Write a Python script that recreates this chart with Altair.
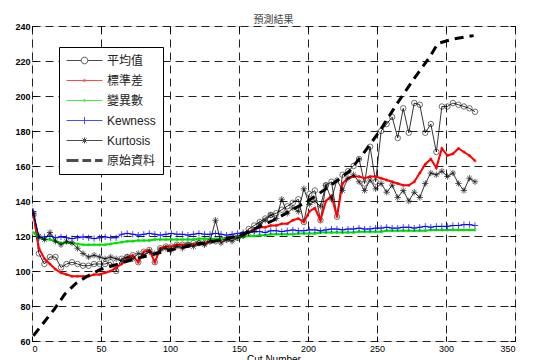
import altair as alt
import pandas as pd

# sample positions (Cut Number)
cut = [1, 5, 9, 13, 17, 21, 25, 29, 33, 37, 41, 45, 49, 53, 57, 61, 65, 69, 73, 77,
       81, 85, 89, 93, 97, 101, 105, 109, 113, 117, 121, 125, 129, 133, 137, 141, 145, 149, 153, 157,
       161, 165, 169, 173, 177, 181, 185, 189, 193, 197, 201, 205, 209, 213, 217, 221, 225, 229, 233, 237,
       241, 245, 249, 253, 257, 261, 265, 269, 273, 277, 281, 285, 289, 293, 297, 301, 305, 309, 313, 317, 321]

mean_v = [132, 110, 104, 108, 108, 102, 104, 105, 104, 103, 103, 104, 104, 104, 105, 100, 107, 108, 109, 105,
          111, 112, 105, 113, 114, 114, 115, 115, 115, 116, 116, 116, 117, 117, 118, 118, 119, 119, 121, 124,
          126, 128, 130, 132, 133, 135, 137, 139, 141, 128, 144, 146, 129, 149, 151, 131, 155, 157, 160, 164,
          150, 171, 151, 180, 184, 188, 176, 193, 179, 196, 195, 179, 184, 168, 194, 194, 196, 195, 194, 193, 191]

std_v = [133, 113, 107, 104, 101, 99, 98, 97, 97, 97, 97, 98, 98, 99, 100, 102, 104, 107, 109, 105,
         111, 112, 105, 113, 114, 114, 115, 115, 115, 115, 116, 116, 117, 117, 118, 118, 119, 119, 120, 122,
         124, 125, 125, 126, 126, 127, 127, 129, 130, 128, 134, 136, 129, 140, 143, 131, 150, 153, 154, 154,
         153, 154, 154, 153, 152, 151, 150, 149, 149, 151, 156, 161, 164, 159, 170, 166, 167, 170, 168, 166, 163]

cv_v = [122, 119, 118, 118, 117, 116, 116, 116, 115.5, 115, 115, 115, 115, 115, 115.5, 116, 116.5, 117, 117, 117.5,
        117.5, 117.5, 118, 118, 118, 118, 118, 118, 118, 118, 118.5, 118.5, 118.5, 118.5, 118.5, 119, 119, 119, 119.5, 120,
        120, 120.5, 120.5, 121, 121, 121, 121, 121, 121.5, 121.5, 121.5, 121.5, 122, 122, 122, 122, 122, 122, 122, 122.5,
        122.5, 122.5, 122.5, 122.5, 123, 123, 123, 123, 123, 123, 123, 123, 123.5, 123.5, 123.5, 123.5, 123.5, 123.5, 123.5, 123.5, 123.5]

skew_v = [134, 119, 119.5, 120, 119, 119.5, 119, 118.5, 119, 119.5, 119, 118.5, 119, 119.5, 119, 119, 121, 121.5, 121, 120.5,
          121, 121.5, 121, 120.5, 121, 121.5, 121, 121, 120.5, 121, 121.5, 121, 121, 121.5, 121, 120.5, 121, 121.5, 122, 122,
          122.5, 122.5, 122, 123, 123, 122.5, 123, 123.5, 123, 123, 123.5, 123.5, 123, 123.5, 124, 124, 123.5, 124, 124, 124.5,
          124, 124, 124.5, 124.5, 125, 124.5, 124.5, 125, 125, 124.5, 125, 125.5, 125, 125.5, 125.5, 125.5, 126, 126, 126.5, 126.5, 126]

kurt_v = [133, 120, 118, 122, 117, 115, 117, 116, 113, 110, 108, 109, 108, 107, 108, 107, 106, 108, 107, 110,
          109, 111, 110, 112, 113, 112, 114, 113, 115, 114, 116, 115, 117, 129, 116, 118, 117, 119, 120, 122,
          123, 127, 129, 132, 130, 141, 133, 136, 134, 147, 138, 140, 137, 149, 141, 152, 146, 153, 155, 151,
          146, 152, 147, 150, 145, 149, 142, 146, 140, 145, 142, 150, 156, 155, 157, 154, 156, 150, 146, 153, 151]

orig_x = [1, 8, 16, 24, 32, 40, 50, 75, 100, 125, 150, 175, 200, 215, 230, 240, 252, 264, 276, 288, 294, 305, 320]
orig_v = [63, 70, 78, 87, 93, 97, 101, 107, 112, 116, 120, 129, 140, 148, 157, 167, 180, 195, 209, 222, 230, 232.5, 234.5]

names = ["平均值", "標準差", "變異數", "Kewness", "Kurtosis", "原始資料"]
colors = ["#000000", "#ff0000", "#00e000", "#0000ff", "#000000", "#000000"]
legend_paths = [
    "M-1,0H1.45M2.55,0H5M2.55,0A0.55,0.55 0 1,1 1.45,0A0.55,0.55 0 1,1 2.55,0",
    "M-1,0H5M2.2,0A0.2,0.2 0 1,1 1.8,0A0.2,0.2 0 1,1 2.2,0",
    "M-1,0H5M2.2,0A0.2,0.2 0 1,1 1.8,0A0.2,0.2 0 1,1 2.2,0",
    "M-1,0H5M2,-0.6V0.6",
    "M-1,0H5M2,-0.5V0.5M1.65,-0.35L2.35,0.35M1.65,0.35L2.35,-0.35",
    "M-1,-0.17H1M-1,0H1M-1,0.17H1M1.65,-0.17H3.1M1.65,0H3.1M1.65,0.17H3.1M3.75,-0.17H5M3.75,0H5M3.75,0.17H5",
]

x_ticks = [0, 50, 100, 150, 200, 250, 300, 350]
y_ticks = [60, 80, 100, 120, 140, 160, 180, 200, 220, 240]

XS = alt.Scale(domain=[0, 350], nice=False, zero=False)
YS = alt.Scale(domain=[60, 240], nice=False, zero=False)

FONT = "Liberation Sans, Noto Sans CJK TC"

ax_main_x = alt.Axis(orient="bottom", values=x_ticks, grid=True, gridDash=[8, 5], gridColor="#222",
                     gridWidth=1, gridOpacity=1, tickSize=0, domain=False, labelFontSize=9,
                     labelColor="#000", labelPadding=3, labelFont=FONT, title="Cut Number",
                     titleFontSize=10, titleFontWeight="normal", titleFont=FONT, titlePadding=1,
                     titleColor="#000")
ax_main_y = alt.Axis(orient="left", values=y_ticks, grid=True, gridDash=[8, 5], gridColor="#222",
                     gridWidth=1, gridOpacity=1, tickSize=0, domain=False, labelFontSize=9,
                     labelColor="#000", labelPadding=2, labelFont=FONT, labelFontWeight="bold",
                     title=None)


def tick_axis(orient, vals):
    return alt.Axis(orient=orient, values=vals, offset=-5, tickSize=5, tickColor="#000", tickWidth=1,
                    labels=False, domain=False, grid=False, title=None)


def frame(xs, ys):
    return pd.DataFrame({"x": xs, "y": ys})


series = [
    ("平均值", mean_v, "#000000", 0.8, dict(shape="circle", filled=False, size=30, strokeWidth=0.8)),
    ("標準差", std_v, "#ff0000", 2, dict(shape="circle", filled=True, size=10)),
    ("變異數", cv_v, "#00e000", 2, dict(shape="circle", filled=True, size=10)),
    ("Kewness", skew_v, "#0000ff", 1, dict(shape="M-1,0H1M0,-1V1", filled=False, size=40, strokeWidth=1)),
    ("Kurtosis", kurt_v, "#000000", 0.8,
     dict(shape="M-1,0H1M0,-1V1M-0.7,-0.7L0.7,0.7M-0.7,0.7L0.7,-0.7", filled=False, size=40, strokeWidth=0.9)),
]

layers = []
for i, (nm, vals, col, lw, pt) in enumerate(series):
    df = frame(cut, vals)
    if i == 0:
        ax_l = (ax_main_x, ax_main_y)
        ax_p = (tick_axis("bottom", x_ticks), tick_axis("left", y_ticks))
    elif i == 1:
        ax_l = (tick_axis("top", x_ticks), tick_axis("right", y_ticks))
        ax_p = (None, None)
    else:
        ax_l = (None, None)
        ax_p = (None, None)
    line = alt.Chart(df).mark_line(color=col, strokeWidth=lw, clip=True).encode(
        x=alt.X("x:Q", scale=XS, axis=ax_l[0]),
        y=alt.Y("y:Q", scale=YS, axis=ax_l[1]),
    )
    pts = alt.Chart(df).mark_point(color=col, clip=True, **pt).encode(
        x=alt.X("x:Q", scale=XS, axis=ax_p[0]),
        y=alt.Y("y:Q", scale=YS, axis=ax_p[1]),
    )
    layers += [line, pts]

orig = alt.Chart(frame(orig_x, orig_v)).mark_line(color="#000", strokeWidth=3, strokeDash=[9, 6], clip=True).encode(
    x=alt.X("x:Q", scale=XS, axis=None),
    y=alt.Y("y:Q", scale=YS, axis=None),
)
layers.append(orig)

leg = alt.Legend(orient="none", legendX=27, legendY=21, title=None, padding=7, rowPadding=7,
                 symbolSize=144, symbolStrokeWidth=1, labelOffset=28, labelFontSize=12,
                 labelFont=FONT, labelColor="#222", fillColor="white", strokeColor="#000",
                 cornerRadius=0,
                 labelExpr="datum.label + '\u00a0\u00a0\u00a0\u00a0\u00a0\u00a0\u00a0'")
legend_layer = alt.Chart(pd.DataFrame({"series": names})).mark_point(
    filled=False, strokeWidth=1, size=144).encode(
    color=alt.Color("series:N", scale=alt.Scale(domain=names, range=colors), legend=leg),
    shape=alt.Shape("series:N", scale=alt.Scale(domain=names, range=legend_paths), legend=leg),
).transform_filter("datum.series == 'none'")
layers.append(legend_layer)

chart = alt.layer(*layers).resolve_axis(x="independent", y="independent").properties(
    width=483, height=315,
    title=alt.TitleParams("預測結果", fontSize=10, fontWeight="normal", color="#444",
                          font="Noto Sans CJK TC", offset=-3, anchor="middle", frame="group"),
    autosize=alt.AutoSizeParams(type="none"),
    padding={"left": 24, "top": 18, "right": 10, "bottom": 19},
).configure_view(stroke="#000", strokeWidth=1).configure(background="white")

chart.save("out.html", embed_options={"renderer": "svg", "actions": False})
